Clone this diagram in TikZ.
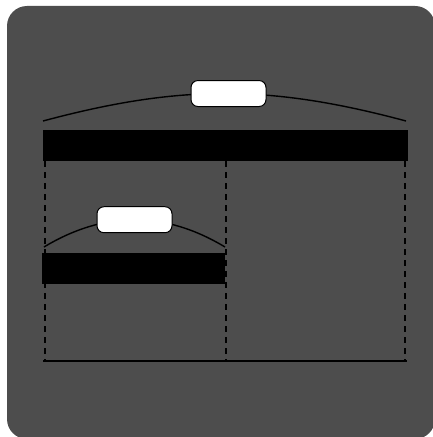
\documentclass[tikz,border=0pt]{standalone}
\usetikzlibrary{positioning, calc}
\definecolor{panel}{RGB}{77,77,77}
\tikzset{
  panelbg/.style={fill=panel, rounded corners=10mm},
  bar/.style={fill=black, inner sep=0pt, anchor=north west},
  tag/.style={
    draw=black, fill=white, line width=0.5mm, rounded corners=3.5mm,
    minimum width=37.5mm, minimum height=13mm, inner sep=0pt
  },
  span/.style={draw=black, line width=0.7mm},
  guide/.style={draw=black, line width=0.6mm, dash pattern=on 3mm off 2.5mm},
  base/.style={draw=black, line width=0.7mm},
}

\begin{document}
\begin{tikzpicture}[x=0.5mm, y=-0.5mm]
  \useasboundingbox (0,0) rectangle (433,437);
  \clip (0,0) rectangle (433,437);
  \fill[panelbg] (7,6) rectangle (435,439);

  % dashed guides down to the base line
  \coordinate (gL top) at (45,161);
  \coordinate (gM top) at (226,161);
  \coordinate (gR top) at (405,161);
  \coordinate (gL bot) at (45,361);
  \coordinate (gM bot) at (226,361);
  \coordinate (gR bot) at (405,361);
  \draw[guide] (gL top) -- (gL bot);
  \draw[guide] (gM top) -- (gM bot);
  \draw[guide] (gR top) -- (gR bot);

  % base line
  \coordinate (baseL) at (43,361);
  \coordinate (baseR) at (407,361);
  \draw[base] (baseL) -- (baseR);

  % bars
  \node[bar, minimum width=182.5mm, minimum height=15.5mm] (wide) at (43,130) {};
  \node[bar, minimum width=91.5mm, minimum height=15.5mm] (half) at (42,253) {};

  % spans with tags
  \coordinate (wideL) at (43,121);
  \coordinate (wideR) at (406,121);
  \draw[span] (wideL) to[bend left=15] node[tag, xshift=2mm] (wideTag) {} (wideR);

  \coordinate (halfL) at (44,247);
  \coordinate (halfR) at (225,247);
  \draw[span] (halfL) to[bend left=31] node[tag] (halfTag) {} (halfR);
\end{tikzpicture}
\end{document}
